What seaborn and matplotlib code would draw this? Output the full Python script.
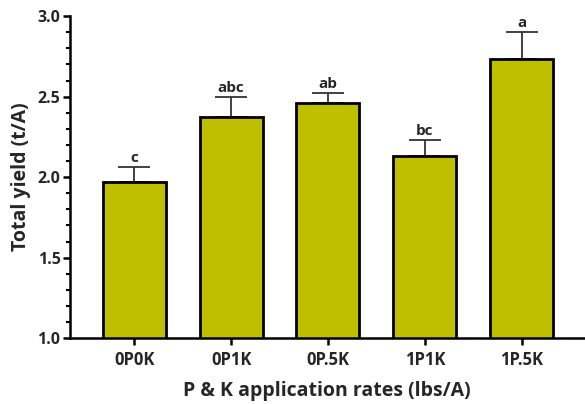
import matplotlib
matplotlib.use("Agg")
import matplotlib.pyplot as plt
import seaborn as sns
import numpy as np
import pandas as pd
from matplotlib.ticker import MultipleLocator

categories = ["0P0K", "0P1K", "0P.5K", "1P1K", "1P.5K"]
yields = [1.97, 2.375, 2.46, 2.13, 2.737]
errors = [0.094, 0.125, 0.065, 0.098, 0.163]
letters = ["c", "abc", "ab", "bc", "a"]

sns.set_style("ticks")
plt.rcParams['font.family'] = ['Open Sans', 'DejaVu Sans']

df = pd.DataFrame({"rate": categories, "yield": yields})

fig = plt.figure(figsize=(5.85, 4.04), dpi=100)
ax = fig.add_axes([0.12, 0.163, 0.878, 0.797])

sns.barplot(data=df, x="rate", y="yield", order=categories, color="#BFBF00",
            saturation=1, width=0.65, edgecolor="black", linewidth=2,
            errorbar=None, ax=ax, zorder=2)

x = np.arange(len(categories))
ax.errorbar(x, yields, yerr=[np.zeros(len(errors)), errors], fmt="none",
            ecolor="#333333", elinewidth=1.3, capsize=11.5, capthick=1.3, zorder=1)

for xi, v, e, lab in zip(x, yields, errors, letters):
    ax.annotate(lab, (xi, v + e), xytext=(0, 1.5), textcoords="offset points",
                ha="center", va="bottom", fontsize=11, fontweight="bold")

ax.set_ylim(1.0, 3.0)
ax.set_xlim(-0.66, 4.64)
ax.yaxis.set_major_locator(MultipleLocator(0.5))
ax.yaxis.set_minor_locator(MultipleLocator(0.1))
ax.yaxis.set_major_formatter(matplotlib.ticker.FormatStrFormatter("%.1f"))

for s in ["top", "right"]:
    ax.spines[s].set_visible(False)
for s in ["left", "bottom"]:
    ax.spines[s].set_linewidth(1.8)
    ax.spines[s].set_color("black")

ax.tick_params(axis="both", which="major", width=1.8, length=5, color="black",
               labelsize=11.5)
ax.tick_params(axis="x", which="major", pad=4, labelsize=12)
ax.tick_params(axis="y", which="major", pad=2)
ax.tick_params(axis="y", which="minor", width=1.5, length=3, color="black")
for lbl in ax.get_xticklabels() + ax.get_yticklabels():
    lbl.set_fontweight("bold")

ax.set_xlabel("P & K application rates (lbs/A)", fontsize=14, fontweight="bold", labelpad=9)
ax.set_ylabel("Total yield (t/A)", fontsize=14, fontweight="bold", labelpad=5)

fig.savefig("out.png", dpi=100)
